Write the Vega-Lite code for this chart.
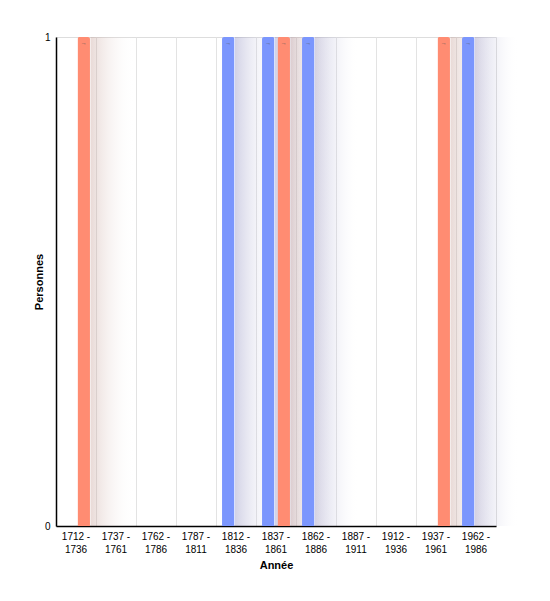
{
  "$schema": "https://vega.github.io/schema/vega-lite/v6.json",
  "autosize": "none",
  "width": 440,
  "height": 489,
  "padding": {"left": 56, "top": 37, "right": 54, "bottom": 75},
  "background": "white",
  "config": {
    "font": "Liberation Sans",
    "view": {"stroke": "#dddddd", "strokeWidth": 1}
  },
  "data": {
    "values": [
      {"periode": "1712 - 1736", "serie": "Série 1", "personnes": 0},
      {"periode": "1712 - 1736", "serie": "Série 2", "personnes": 1},
      {"periode": "1737 - 1761", "serie": "Série 1", "personnes": 0},
      {"periode": "1737 - 1761", "serie": "Série 2", "personnes": 0},
      {"periode": "1762 - 1786", "serie": "Série 1", "personnes": 0},
      {"periode": "1762 - 1786", "serie": "Série 2", "personnes": 0},
      {"periode": "1787 - 1811", "serie": "Série 1", "personnes": 0},
      {"periode": "1787 - 1811", "serie": "Série 2", "personnes": 0},
      {"periode": "1812 - 1836", "serie": "Série 1", "personnes": 1},
      {"periode": "1812 - 1836", "serie": "Série 2", "personnes": 0},
      {"periode": "1837 - 1861", "serie": "Série 1", "personnes": 1},
      {"periode": "1837 - 1861", "serie": "Série 2", "personnes": 1},
      {"periode": "1862 - 1886", "serie": "Série 1", "personnes": 1},
      {"periode": "1862 - 1886", "serie": "Série 2", "personnes": 0},
      {"periode": "1887 - 1911", "serie": "Série 1", "personnes": 0},
      {"periode": "1887 - 1911", "serie": "Série 2", "personnes": 0},
      {"periode": "1912 - 1936", "serie": "Série 1", "personnes": 0},
      {"periode": "1912 - 1936", "serie": "Série 2", "personnes": 0},
      {"periode": "1937 - 1961", "serie": "Série 1", "personnes": 0},
      {"periode": "1937 - 1961", "serie": "Série 2", "personnes": 1},
      {"periode": "1962 - 1986", "serie": "Série 1", "personnes": 1},
      {"periode": "1962 - 1986", "serie": "Série 2", "personnes": 0}
    ]
  },
  "encoding": {
    "x": {
      "field": "periode",
      "type": "nominal",
      "sort": null,
      "title": "Année",
      "scale": {
        "domain": ["1712 - 1736", "1737 - 1761", "1762 - 1786", "1787 - 1811", "1812 - 1836", "1837 - 1861", "1862 - 1886", "1887 - 1911", "1912 - 1936", "1937 - 1961", "1962 - 1986"],
        "paddingInner": 0, "paddingOuter": 0
      },
      "axis": {
        "labelAngle": 0,
        "labelExpr": "[slice(datum.label, 0, 6), slice(datum.label, 7)]",
        "labelFontSize": 10,
        "labelColor": "#000000",
        "labelPadding": 5,
        "labelLineHeight": 13,
        "ticks": false,
        "domainColor": "#000000",
        "domainWidth": 1.5,
        "grid": true,
        "gridColor": "#e3e3e3",
        "bandPosition": 0,
        "titleFontSize": 11,
        "titleFontWeight": "bold",
        "titleColor": "#000000",
        "titlePadding": 5
      }
    },
    "y": {
      "field": "personnes",
      "type": "quantitative",
      "title": "Personnes",
      "scale": {"domain": [0, 1]},
      "axis": {
        "values": [0, 1],
        "format": "d",
        "grid": false,
        "ticks": false,
        "labelFontSize": 10,
        "labelColor": "#000000",
        "labelPadding": 6,
        "domainColor": "#000000",
        "domainWidth": 1.5,
        "titleFontSize": 11,
        "titleFontWeight": "bold",
        "titleColor": "#000000",
        "titlePadding": 0
      }
    }
  },
  "layer": [
    {
      "transform": [{"filter": "datum.personnes > 0 && datum.serie === 'Série 1'"}],
      "mark": {
        "type": "bar",
        "width": 44,
        "xOffset": 21,
        "clip": false,
        "fill": {
          "gradient": "linear",
          "x1": 0, "y1": 0, "x2": 1, "y2": 0,
          "stops": [
            {"offset": 0, "color": "rgba(130,130,185,0.36)"},
            {"offset": 1, "color": "rgba(255,255,255,0)"}
          ]
        }
      },
      "encoding": {}
    },
    {
      "transform": [{"filter": "datum.personnes > 0 && datum.serie === 'Série 2'"}],
      "mark": {
        "type": "bar",
        "width": 44,
        "xOffset": 36.5,
        "clip": false,
        "fill": {
          "gradient": "linear",
          "x1": 0, "y1": 0, "x2": 1, "y2": 0,
          "stops": [
            {"offset": 0, "color": "rgba(185,140,130,0.32)"},
            {"offset": 1, "color": "rgba(255,255,255,0)"}
          ]
        }
      },
      "encoding": {}
    },
    {
      "mark": {"type": "bar", "cornerRadiusTopLeft": 2, "cornerRadiusTopRight": 2},
      "encoding": {
        "xOffset": {
          "field": "serie",
          "type": "nominal",
          "scale": {"domain": ["Série 1", "Série 2"], "paddingInner": 0.19, "paddingOuter": 0.39}
        },
        "color": {
          "field": "serie",
          "type": "nominal",
          "scale": {"domain": ["Série 1", "Série 2"], "range": ["#7b96fd", "#ff8c72"]},
          "legend": null
        }
      }
    },
    {
      "transform": [{"filter": "datum.personnes > 0"}],
      "mark": {"type": "text", "text": "→", "fontSize": 6, "color": "#555555", "baseline": "top", "dy": 3},
      "encoding": {
        "xOffset": {
          "field": "serie",
          "type": "nominal",
          "scale": {"domain": ["Série 1", "Série 2"], "paddingInner": 0.19, "paddingOuter": 0.39}
        }
      }
    }
  ]
}
